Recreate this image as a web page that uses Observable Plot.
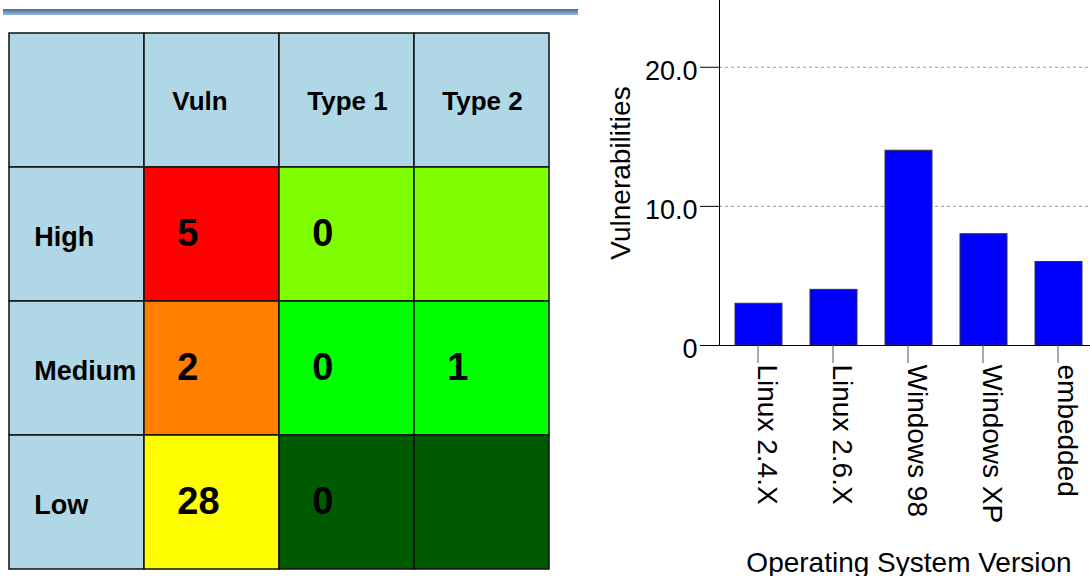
<!DOCTYPE html>
<html><head><meta charset="utf-8">
<script src="https://cdn.jsdelivr.net/npm/d3@7"></script>
<script src="https://cdn.jsdelivr.net/npm/@observablehq/plot@0.6"></script>
<style>
html,body{margin:0;padding:0;background:#fff;}
#wrap{position:relative;width:1090px;height:576px;overflow:hidden;font-family:"Liberation Sans",Arial,sans-serif;}
#rule{position:absolute;left:3px;top:9px;width:575px;height:6px;background:linear-gradient(#3d6aa3,#9cb9dd);}
#left{position:absolute;left:0;top:0;width:580px;height:576px;}
#right{position:absolute;left:580px;top:0;width:510px;height:576px;overflow:hidden;}
#wrap svg{max-width:none !important;}
</style></head><body>
<div id="wrap"><div id="left"></div><div id="rule"></div><div id="right"></div></div>
<script>
// ---- data ----
const levels = ["High", "Medium", "Low"];
const columns = ["Vuln", "Type 1", "Type 2"];
const vulnCounts = [5, 2, 28];
const type1Counts = [0, 0, 0];
const type2Counts = [null, 1, null];

const osVersions = ["Linux 2.4.X", "Linux 2.6.X", "Windows 98", "Windows XP", "embedded"];
const osVulns = [3, 4, 14, 8, 6];
const yTicks = [0, 10, 20];
const yTickLabels = ["0", "10.0", "20.0"];

// ---- styles ----
const headerFill = "#afd7e6";
const vulnFills = ["#ff0000", "#ff8000", "#ffff00"];
const typeFills = ["#80ff00", "#00ff00", "#005a00"];
const FONT = "Liberation Sans, Arial, sans-serif";

// ---- table (left) ----
const rows = ["head", ...levels];
const cols = ["corner", ...columns];
const cells = [];
rows.forEach((r, ri) => cols.forEach(c => {
  let color;
  if (r === "head" || c === "corner") color = headerFill;
  else if (c === "Vuln") color = vulnFills[ri - 1];
  else color = typeFills[ri - 1];
  cells.push({row: r, col: c, color});
}));
const numberCells = levels.flatMap((l, i) => [
  {row: l, col: "Vuln", v: vulnCounts[i]},
  {row: l, col: "Type 1", v: type1Counts[i]},
  {row: l, col: "Type 2", v: type2Counts[i]}
]).filter(d => d.v != null);

const W = 580, ML = 8, MR = 30;
const half = (W - ML - MR) / cols.length / 2;

const table = Plot.plot({
  width: W, height: 576,
  marginLeft: ML, marginRight: MR, marginTop: 31, marginBottom: 6,
  style: {fontFamily: FONT, background: "transparent", color: "#000", maxWidth: "none"},
  x: {domain: cols, padding: 0, axis: null},
  y: {domain: rows, padding: 0, axis: null},
  color: {type: "identity"},
  marks: [
    Plot.cell(cells, {x: "col", y: "row", fill: "color", stroke: "#111", strokeWidth: 1.5}),
    Plot.text(columns, {x: d => d, y: () => "head", text: d => d, textAnchor: "start", lineAnchor: "bottom",
      dx: -half + 28, dy: 9.5, fontSize: 26, fontWeight: "bold", fill: "#000"}),
    Plot.text(levels, {x: () => "corner", y: d => d, text: d => d, textAnchor: "start", lineAnchor: "bottom",
      dx: -half + 25, dy: 11.5, fontSize: 27, fontWeight: "bold", fill: "#000"}),
    Plot.text(numberCells, {x: "col", y: "row", text: d => String(d.v), textAnchor: "start", lineAnchor: "bottom",
      dx: -half + 33, dy: 11, fontSize: 38, fontWeight: "bold", fill: "#000"})
  ]
});
document.getElementById("left").appendChild(table);

// ---- bar chart (right) ----
const bars = osVersions.map((os, i) => ({os, v: osVulns[i]}));
const chart = Plot.plot({
  width: 518, height: 576,
  marginLeft: 139, marginRight: 0, marginTop: 0, marginBottom: 231,
  style: {fontFamily: FONT, background: "transparent", color: "#000", overflow: "visible", maxWidth: "none"},
  x: {domain: osVersions, paddingInner: 0.372, paddingOuter: 0.18},
  y: {domain: [0, 24.8]},
  marks: [
    Plot.gridY(yTicks.filter(t => t > 0), {stroke: "#999", strokeOpacity: 1, strokeDasharray: "3,3"}),
    Plot.barY(bars, {x: "os", y: "v", fill: "#0000ff", stroke: "#333", strokeWidth: 1}),
    Plot.ruleY([0], {stroke: "#000"}),
    Plot.frame({anchor: "left", stroke: "#000"}),
    Plot.axisY(yTicks, {fill: "none", tickSize: 19, stroke: "#000", label: null}),
    Plot.axisY(yTicks, {stroke: "none", tickSize: 19, tickPadding: 3, dy: 4,
      tickFormat: d => yTickLabels[yTicks.indexOf(d)], fontSize: 27, fill: "#000", label: null}),
    Plot.axisX({tickSize: 18, tickPadding: 1, tickRotate: 90, lineAnchor: "bottom", dx: -1,
      stroke: "#555", fill: "#000", fontSize: 28, label: null}),
    Plot.text(["Vulnerabilities"], {frameAnchor: "left", rotate: -90, dx: -98, text: d => d,
      textAnchor: "middle", fontSize: 28, lineAnchor: "middle", fill: "#000"}),
    Plot.text(["Operating System Version"], {frameAnchor: "bottom", dy: 226, lineAnchor: "bottom",
      textAnchor: "middle", text: d => d, fontSize: 28, fill: "#000"})
  ]
});
document.getElementById("right").appendChild(chart);
</script>
</body></html>
